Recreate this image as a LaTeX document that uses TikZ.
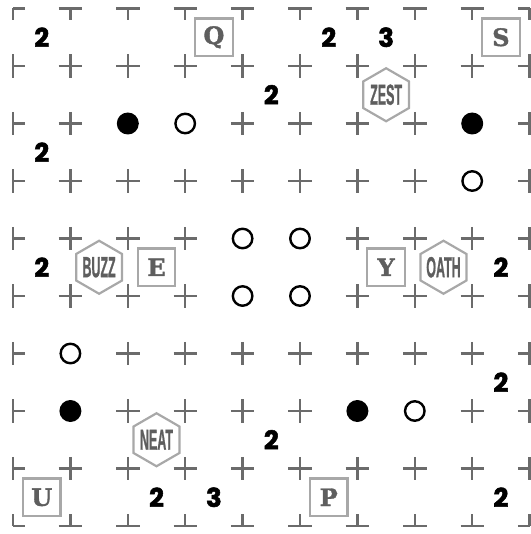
\documentclass[tikz,border=0pt]{standalone}
\usepackage{fontspec}
\usepackage{graphicx}
\newfontfamily\numfont{Poppins}
\newfontfamily\slabfont{DejaVu Serif}
\newfontfamily\hexfont{Liberation Sans}
\definecolor{gridgray}{HTML}{6B6B6B}
\definecolor{framegray}{HTML}{A8A8A8}
\definecolor{textgray}{HTML}{5E5E5E}
\tikzset{
  gridline/.style={draw=gridgray, line width=2.4pt},
  numlabel/.style={inner sep=0pt, font=\numfont\bfseries\addfontfeatures{FakeBold=2}\fontsize{26}{26}\selectfont, text=black},
  letterbox/.style={draw=framegray, line width=2.2pt, minimum size=37.5pt, inner sep=0pt,
     font=\slabfont\bfseries\addfontfeatures{FakeBold=1.5}\fontsize{24}{24}\selectfont, text=textgray},
  hextext/.style={inner sep=0pt, font=\hexfont\bfseries\addfontfeatures{FakeBold=1.5}\fontsize{29}{29}\selectfont, text=textgray},
  hexline/.style={draw=framegray, line width=2.2pt, line join=miter},
  stone/.style={circle, inner sep=0pt, minimum size=22pt, fill=black},
  ring/.style={circle, inner sep=0pt, minimum size=19.5pt, draw=black, line width=2.4pt, fill=white},
}
\expandafter\def\csname skip-2-2\endcsname{}
\expandafter\def\csname skip-3-2\endcsname{}
\expandafter\def\csname skip-8-2\endcsname{}
\expandafter\def\csname skip-8-3\endcsname{}
\expandafter\def\csname skip-4-4\endcsname{}
\expandafter\def\csname skip-5-4\endcsname{}
\expandafter\def\csname skip-4-5\endcsname{}
\expandafter\def\csname skip-5-5\endcsname{}
\expandafter\def\csname skip-1-6\endcsname{}
\expandafter\def\csname skip-1-7\endcsname{}
\expandafter\def\csname skip-6-7\endcsname{}
\expandafter\def\csname skip-7-7\endcsname{}
\begin{document}
\begin{tikzpicture}[x=1pt,y=-1pt]
\useasboundingbox (0,0) rectangle (530,534);
% grid crosses
\foreach \i in {0,...,9}{
  \foreach \j in {0,...,9}{
    \ifcsname skip-\i-\j\endcsname\else
      \pgfmathsetmacro\gx{13+57.4*\i}
      \pgfmathsetmacro\gy{8.5+57.5*\j}
      \pgfmathsetmacro\xa{max(13,\gx-11.7)}
      \pgfmathsetmacro\xb{min(529.6,\gx+11.7)}
      \pgfmathsetmacro\ya{max(8.5,\gy-11.7)}
      \pgfmathsetmacro\yb{min(526,\gy+11.7)}
      \coordinate (h\i-\j a) at (\xa,\gy);
      \coordinate (h\i-\j b) at (\xb,\gy);
      \coordinate (v\i-\j a) at (\gx,\ya);
      \coordinate (v\i-\j b) at (\gx,\yb);
      \draw[gridline] (h\i-\j a) -- (h\i-\j b);
      \draw[gridline] (v\i-\j a) -- (v\i-\j b);
    \fi
  }
}
% stones
\foreach \n/\i/\j in {s1/2/2, s2/8/2, s3/1/7, s4/6/7}
  \node[stone] (\n) at ({13+57.4*\i},{8.5+57.5*\j}) {};
\foreach \n/\i/\j in {r1/3/2, r2/8/3, r3/4/4, r4/5/4, r5/4/5, r6/5/5, r7/1/6, r8/7/7}
  \node[ring] (\n) at ({13+57.4*\i},{8.5+57.5*\j}) {};
% numbers
\foreach \n/\c/\r/\t in {n1/0/0/2, n2/5/0/2, n3/6/0/3, n4/4/1/2, n5/0/2/2, n6/0/4/2,
    n7/8/4/2, n8/8/6/2, n9/4/7/2, n10/2/8/2, n11/3/8/3, n12/8/8/2}
  \node[numlabel] (\n) at ({13+57.4*(\c+0.5)},{8.5+57.5*(\r+0.5)}) {\t};
% letter boxes
\foreach \n/\c/\r/\t in {bQ/3/0/Q, bS/8/0/S, bE/2/4/E, bY/6/4/Y, bU/0/8/U, bP/5/8/P}
  \node[letterbox] (\n) at ({13+57.4*(\c+0.5)},{8.5+57.5*(\r+0.5)}) {\t};
% hexagons
\foreach \n/\c/\r/\t in {hZ/6/1/ZEST, hB/1/4/BUZZ, hO/7/4/OATH, hN/2/7/NEAT}{
  \node[hextext] (\n) at ({13+57.4*(\c+0.5)},{8.5+57.5*(\r+0.5)}) {\scalebox{0.43}[1]{\t}};
  \draw[hexline] ([shift={(90:26.5)}]\n.center) -- ([shift={(150:26.5)}]\n.center)
    -- ([shift={(210:26.5)}]\n.center) -- ([shift={(270:26.5)}]\n.center)
    -- ([shift={(330:26.5)}]\n.center) -- ([shift={(30:26.5)}]\n.center) -- cycle;
}
\end{tikzpicture}
\end{document}
